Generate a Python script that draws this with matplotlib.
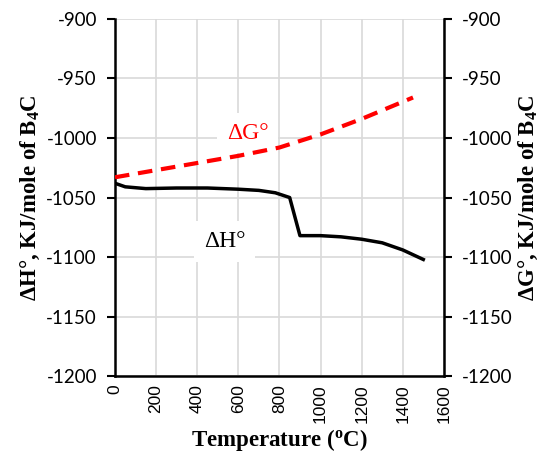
import numpy as np
import matplotlib.pyplot as plt

# data
temp_h = [0, 50, 150, 300, 450, 600, 700, 780, 850, 900, 1000, 1100, 1200, 1300, 1400, 1500]
dH = [-1038, -1041, -1042.5, -1042, -1042, -1043, -1044, -1046, -1050, -1082, -1082, -1083, -1085, -1088, -1094, -1102]

temp_g = [0, 200, 400, 600, 800, 1000, 1200, 1450]
dG = [-1033, -1027, -1021, -1015, -1008, -997, -984, -966]

xticks = list(range(0, 1601, 200))
yticks = list(range(-1200, -899, 50))

fig = plt.figure(figsize=(5.5, 4.61), dpi=100)
ax = fig.add_axes([0.209, 0.184, 0.598, 0.775])

ax.plot(temp_h, dH, color="black", lw=2.5, zorder=3)
ax.plot(temp_g, dG, color="#ff0000", lw=3, dashes=(3.5, 2.1), zorder=3)

ax.set_xlim(0, 1600)
ax.set_ylim(-1200, -900)
ax.set_xticks(xticks)
ax.set_yticks(yticks)
ax.set_xticklabels([str(t) for t in xticks], rotation=90, fontsize=12.5, family="Liberation Sans")
ax.set_yticklabels([str(t) for t in yticks], fontsize=13.5, family="Lato")
ax.grid(True, color="#d9d9d9", lw=1.2, zorder=0)
ax.tick_params(axis="x", length=0, pad=6)
ax.tick_params(axis="y", direction="out", length=6, width=1.5, pad=7)

for s in ["left", "bottom"]:
    ax.spines[s].set_linewidth(1.8)
ax.spines["top"].set_visible(False)
ax.spines["right"].set_visible(False)

ax2 = ax.twinx()
ax2.set_ylim(-1200, -900)
ax2.set_yticks(yticks)
ax2.set_yticklabels([str(t) for t in yticks], fontsize=13.5, family="Lato")
ax2.tick_params(axis="y", direction="out", length=6, width=1.5, pad=7)
ax2.spines["right"].set_linewidth(1.8)
for s in ["left", "top", "bottom"]:
    ax2.spines[s].set_visible(False)

# labels sit above the grid but under the curves
bbox = dict(facecolor="white", edgecolor="none", pad=7)
ax.text(647, -996, "ΔG°", color="#ff0000", fontsize=17, family="Liberation Serif",
        ha="center", va="center", bbox=bbox, zorder=2)
ax.text(535, -1087, "ΔH°", color="black", fontsize=17, family="Liberation Serif",
        ha="center", va="center", bbox=bbox, zorder=2)

ax.set_xlabel(r"Temperature ($\mathregular{^o}$C)", fontsize=16.5, fontweight="bold",
              family="Liberation Serif", labelpad=3)
ax.set_ylabel(r"ΔH°, KJ/mole of B$\mathregular{_4}$C", fontsize=16.5, fontweight="bold",
              family="Liberation Serif", labelpad=3)
ax2.set_ylabel(r"ΔG°, KJ/mole of B$\mathregular{_4}$C", fontsize=16.5, fontweight="bold",
               family="Liberation Serif", labelpad=3)

fig.savefig("out.png", dpi=100)
